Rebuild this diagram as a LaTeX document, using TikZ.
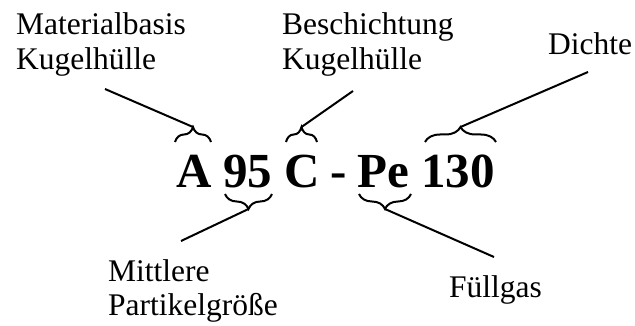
\documentclass[tikz,border=0pt]{standalone}
\usepackage{fontspec}
\setmainfont{Liberation Serif}
\usetikzlibrary{decorations.pathreplacing}
\begin{document}
\begin{tikzpicture}[x=1pt,y=-1pt,
  lbl/.style={anchor=base west,inner sep=0pt,font=\fontsize{31.5}{34}\selectfont},
  code/.style={anchor=base west,inner sep=0pt,font=\fontsize{49}{52}\selectfont\bfseries},
  brc/.style={decorate,decoration={brace,amplitude=15pt},line width=2pt},
  conn/.style={line width=2pt}]
\useasboundingbox (0,0) rectangle (635,326);
% labels
\node[lbl] (mat1) at (16,35) {Materialbasis};
\node[lbl] (mat2) at (16,70) {Kugelhülle};
\node[lbl] (bes1) at (282,35) {Beschichtung};
\node[lbl] (bes2) at (282,70) {Kugelhülle};
\node[lbl] (dic) at (548,55) {Dichte};
\node[lbl] (mit1) at (108,281) {Mittlere};
\node[lbl] (mit2) at (108,315) {Partikelgröße};
\node[lbl] (ful) at (449,297) {Füllgas};
% code
\node[code] (cA) at (176,188) {A};
\node[code] (c95) at (223,188) {95};
\node[code] (cC) at (284,188) {C};
\node[code] (cdash) at (330,188) {-};
\node[code] (cPe) at (357,188) {Pe};
\node[code] (c130) at (421,188) {130};
% braces
\draw[brc] (175,142) -- (211,142);
\draw[brc] (286,142) -- (317,142);
\draw[brc] (425,142) -- (496,142);
\draw[brc] (272,194) -- (225,194);
\draw[brc] (411,194) -- (359,194);
% connector ends
\coordinate (tA) at (193,127);
\coordinate (tC) at (301.5,127);
\coordinate (t130) at (460.5,127);
\coordinate (t95) at (248.5,209);
\coordinate (tPe) at (385,209);
\coordinate (eMat) at (105,89);
\coordinate (eBes) at (353,91);
\coordinate (eDic) at (588,72);
\coordinate (eMit) at (181,241);
\coordinate (eFul) at (494,257);
\draw[conn] (eMat) -- (tA);
\draw[conn] (eBes) -- (tC);
\draw[conn] (eDic) -- (t130);
\draw[conn] (eMit) -- (t95);
\draw[conn] (eFul) -- (tPe);
\end{tikzpicture}
\end{document}
